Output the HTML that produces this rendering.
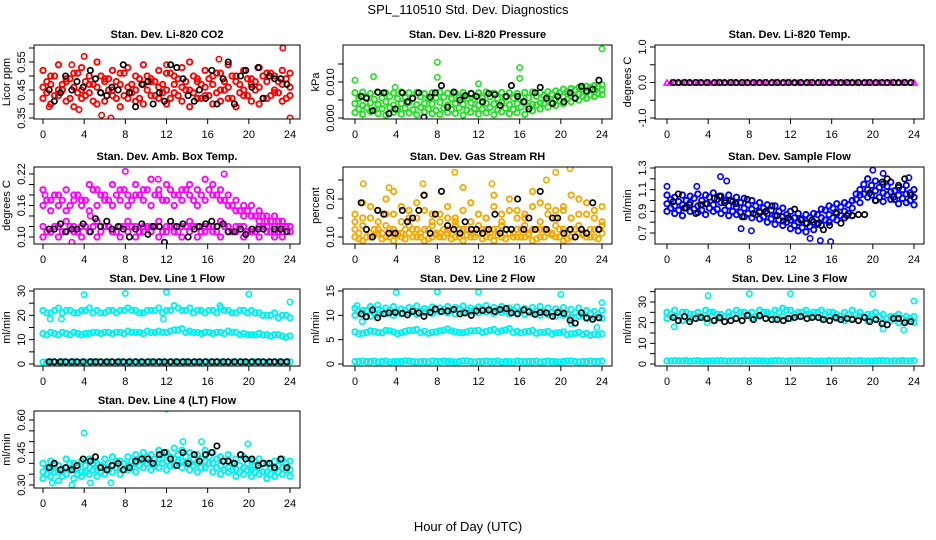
<!DOCTYPE html>
<html><head><meta charset="utf-8"><style>
html,body{margin:0;padding:0;background:#fff;}
svg{display:block;font-family:"Liberation Sans",sans-serif;}
</style></head><body>
<svg id="chart" width="936" height="540" viewBox="0 0 936 540" xmlns="http://www.w3.org/2000/svg">
<text x="468" y="14" font-size="13" text-anchor="middle">SPL_110510  Std. Dev. Diagnostics</text>
<text x="468" y="531" font-size="13" text-anchor="middle">Hour of Day (UTC)</text>
</svg>
<script>
const blackHours=[0.6,1.1,1.7,2.2,2.8,3.3,3.9,4.6,5.1,5.6,6.2,6.7,7.3,7.8,8.4,9.0,9.6,10.2,10.7,11.3,11.8,12.4,13.0,13.6,14.1,14.7,15.2,15.8,16.4,16.9,17.5,18.0,18.6,19.2,19.7,20.3,20.9,21.4,22.0,22.5,23.1,23.7];
const xTicks=[0,4,8,12,16,20,24];

const co2A=[.52,.50,.54,.49,.51,.53,.50,.55,.49,.52,.51,.53,.50,.54,.49,.52,.51,.50,.53,.55,.49,.52,.50,.51,.54,.50,.52,.49,.53,.51,.50,.52,.51];
const co2B=[.46,.47,.45,.48,.46,.45,.47,.46,.48,.45,.47,.46,.45,.47,.48,.46,.45,.47,.46,.45,.48,.46,.47,.45,.46,.48,.45,.47,.46,.48,.45,.47,.46];
const co2C=[.42,.40,.43,.41,.39,.42,.44,.40,.41,.43,.39,.42,.41,.40,.43,.42,.40,.44,.41,.39,.42,.43,.40,.41,.42,.39,.43,.41,.40,.42,.44,.41,.43];
const co2D=[.48,.50,.47,.49,.51,.48,.47,.50,.49,.48,.51,.47,.49,.50,.48,.47,.51,.49,.48,.50,.47,.49,.51,.48,.50,.47,.49,.48,.50,.51,.48,.49];
const co2E=[.44,.43,.45,.42,.44,.43,.41,.44,.45,.42,.43,.44,.42,.45,.43,.44,.42,.43,.45,.44,.42,.43,.44,.45,.42,.44,.43,.45,.42,.43,.44,.42];
const co2OutH=[4.0,6.6,5.7,23.3,24,17.1,3.5,0.6,12,2.8];
const co2OutV=[.57,.35,.36,.60,.35,.56,.38,.39,.54,.54];
const co2Black=[.45,.41,.44,.50,.45,.48,.46,.52,.49,.44,.43,.46,.45,.54,.44,.39,.47,.48,.40,.44,.41,.54,.53,.49,.43,.41,.45,.42,.52,.40,.49,.55,.40,.50,.52,.46,.53,.42,.50,.49,.49,.47];

const prA=[.0070,.0072,.0068,.0071,.0070,.0069,.0072,.0070,.0071,.0068,.0070,.0072,.0069,.0070,.0071,.0068,.0070,.0072,.0069,.0071,.0070,.0068,.0071,.0072,.0070,.0073,.0075,.0080,.0082,.0085,.0088,.0090,.0092];
const prB=[.0040,.0035,.0042,.0038,.0045,.0036,.0040,.0043,.0037,.0041,.0039,.0044,.0036,.0040,.0038,.0042,.0035,.0041,.0039,.0043,.0037,.0040,.0044,.0038,.0042,.0048,.0052,.0058,.0062,.0066,.0070,.0074,.0078];
const prC=[.0015,.0010,.0018,.0012,.0008,.0016,.0011,.0014,.0009,.0017,.0012,.0010,.0015,.0013,.0008,.0016,.0011,.0014,.0009,.0017,.0012,.0015,.0010,.0020,.0025,.0030,.0035,.0040,.0045,.0050,.0055,.0060,.0065];
const prD=[.0055,.0058,.0052,.0056,.0060,.0054,.0057,.0055,.0059,.0053,.0056,.0058,.0054,.0057,.0055,.0052,.0056,.0059,.0054,.0057,.0055,.0058,.0056,.0060,.0062,.0066,.0070,.0074,.0078,.0082,.0085,.0088];
const prE=[.0025,.0028,.0022,.0026,.0030,.0024,.0027,.0023,.0029,.0025,.0021,.0027,.0024,.0028,.0022,.0026,.0025,.0029,.0023,.0027,.0024,.0030,.0032,.0036,.0040,.0044,.0048,.0052,.0056,.0060,.0064,.0068];
const prOutH=[0,1.8,8,8,16,16,24,12,3.9];
const prOutV=[.0105,.0115,.0155,.0113,.0140,.0110,.0192,.0095,.0085];
const prBlack=[.0060,.0055,.0020,.0072,.0070,.0012,.0025,.0070,.0045,.0055,.0070,.0002,.0058,.0070,.0090,.0030,.0072,.0050,.0062,.0068,.0060,.0045,.0068,.0065,.0035,.0060,.0090,.0060,.0045,.0025,.0070,.0085,.0055,.0040,.0060,.0045,.0070,.0055,.0088,.0075,.0080,.0105];

const tmA=[0,0,0,0,0,0,0,0,0,0,0,0,0,0,0,0,0,0,0,0,0,0,0,0,0,0,0,0,0,0,0,0,0];
const tmB=[0,0,0,0,0,0,0,0,0,0,0,0,0,0,0,0,0,0,0,0,0,0,0,0,0,0,0,0,0,0,0,0];
const tmBlack=[0,0,0,0,0,0,0,0,0,0,0,0,0,0,0,0,0,0,0,0,0,0,0,0,0,0,0,0,0,0,0,0,0,0,0,0,0,0,0,0,0,0];

const abA=[.19,.17,.18,.19,.18,.17,.20,.19,.18,.20,.19,.18,.20,.19,.21,.19,.20,.18,.19,.20,.19,.21,.20,.19,.18,.17,.16,.16,.15,.14,.14,.13,.12];
const abB=[.16,.15,.16,.15,.17,.16,.15,.16,.17,.16,.17,.16,.18,.17,.16,.18,.17,.16,.17,.18,.16,.17,.18,.17,.16,.15,.14,.14,.13,.13,.12,.12,.11];
const abC=[.12,.11,.12,.13,.11,.12,.11,.13,.12,.11,.12,.13,.12,.11,.12,.13,.12,.11,.12,.13,.12,.11,.12,.13,.12,.11,.12,.11,.12,.11,.10,.11,.11];
const abD=[.10,.11,.10,.11,.12,.10,.11,.10,.12,.11,.10,.11,.10,.12,.11,.10,.11,.12,.10,.11,.10,.12,.11,.10,.11,.12,.10,.11,.10,.12,.11,.10,.12];
const abE=[.17,.18,.17,.16,.18,.17,.19,.18,.17,.18,.19,.17,.18,.19,.18,.17,.19,.18,.19,.17,.18,.19,.18,.17,.16,.15,.15,.14,.14,.13,.13,.12];
const abF=[.11,.12,.11,.12,.11,.12,.12,.11,.12,.11,.12,.12,.11,.12,.12,.11,.12,.11,.12,.12,.11,.12,.11,.12,.11,.12,.11,.11,.12,.11,.11,.12];
const abOutH=[8,17.6,4.6,0.2,11.2,2.8];
const abOutV=[.225,.22,.14,.18,.21,.09];
const abBlack=[.115,.115,.125,.11,.115,.115,.125,.11,.135,.12,.13,.115,.12,.115,.10,.115,.125,.105,.12,.12,.09,.13,.12,.125,.10,.115,.12,.125,.13,.12,.125,.11,.11,.115,.105,.115,.115,.115,.08,.115,.115,.11];

const rhA=[.12,.13,.11,.12,.13,.12,.11,.13,.12,.12,.13,.11,.12,.13,.12,.11,.13,.12,.12,.13,.11,.12,.13,.12,.12,.11,.13,.12,.12,.13,.11,.12,.13];
const rhB=[.10,.09,.10,.11,.10,.09,.10,.11,.10,.09,.10,.10,.11,.10,.09,.10,.11,.10,.09,.10,.11,.10,.10,.09,.10,.11,.10,.09,.10,.11,.10,.10,.11];
const rhC=[.16,.19,.15,.17,.20,.16,.18,.15,.19,.17,.16,.14,.18,.15,.17,.19,.16,.15,.18,.16,.20,.17,.15,.18,.19,.16,.17,.18,.15,.20,.16,.17,.18];
const rhD=[.14,.15,.18,.14,.16,.22,.14,.17,.15,.21,.14,.16,.15,.14,.23,.14,.16,.15,.21,.14,.17,.15,.16,.22,.14,.18,.15,.17,.21,.16,.19,.15,.14];
const rhE=[.11,.12,.12,.11,.12,.11,.12,.12,.11,.12,.11,.12,.11,.12,.12,.11,.12,.11,.12,.12,.11,.12,.11,.12,.12,.11,.12,.11,.12,.11,.12,.12];
const rhF=[.095,.10,.105,.095,.10,.105,.095,.10,.10,.095,.105,.10,.095,.10,.105,.10,.095,.10,.105,.095,.10,.10,.105,.095,.10,.105,.10,.095,.10,.105,.10,.095];
const rhOutH=[0.8,9.7,20.9,19.5,18.6,13.3,3.3,6.6];
const rhOutV=[.24,.27,.28,.27,.25,.24,.23,.24];
const rhBlack=[.19,.12,.10,.17,.16,.11,.11,.17,.14,.15,.17,.21,.11,.16,.22,.13,.12,.11,.14,.12,.12,.11,.12,.16,.11,.12,.12,.20,.12,.15,.12,.22,.12,.15,.15,.11,.12,.10,.12,.11,.19,.12];

const sfA=[1.05,1.03,1.05,1.04,1.06,1.05,1.07,1.04,1.05,1.03,1.02,1.00,0.98,0.96,0.95,0.93,0.90,0.88,0.87,0.88,0.92,0.95,0.97,0.98,1.00,1.10,1.20,1.18,1.15,1.17,1.12,1.14,1.10];
const sfB=[0.97,0.95,0.96,0.98,0.95,0.97,0.96,0.98,0.95,0.94,0.93,0.92,0.90,0.88,0.86,0.85,0.82,0.80,0.79,0.80,0.84,0.87,0.88,0.90,0.93,1.05,1.10,1.09,1.07,1.08,1.05,1.06,1.03];
const sfC=[0.90,0.88,0.86,0.90,0.89,0.87,0.90,0.88,0.86,0.87,0.85,0.84,0.83,0.80,0.78,0.77,0.74,0.72,0.71,0.73,0.77,0.80,0.82,0.84,0.86,0.98,1.03,1.00,0.99,1.01,0.97,0.98,0.96];
const sfD=[1.01,0.99,1.00,1.02,1.00,1.03,1.01,1.00,0.99,0.98,0.96,0.95,0.93,0.91,0.90,0.87,0.84,0.83,0.84,0.87,0.91,0.93,0.94,0.96,1.06,1.15,1.14,1.12,1.13,1.09,1.10,1.07];
const sfE=[0.93,0.91,0.93,0.92,0.91,0.93,0.92,0.91,0.90,0.89,0.88,0.87,0.85,0.83,0.82,0.80,0.77,0.75,0.76,0.78,0.82,0.84,0.86,0.88,1.01,1.06,1.05,1.03,1.05,1.01,1.02,1.00];
const sfOutH=[0,5.2,2.9,7.2,8.2,13.9,14.9,15.9,5.8,20,21,23.5];
const sfOutV=[1.13,1.22,1.13,0.74,0.72,0.65,0.63,0.62,1.18,1.28,1.25,1.21];
const sfBlack=[.99,1.06,.93,.96,.88,.96,.97,1.02,1.04,.98,1.00,.97,.85,1.01,.88,.89,.90,.95,.86,.81,.84,.92,.82,.79,.82,.79,.73,.77,.89,.79,.86,.86,.87,.87,1.07,1.00,1.17,1.20,1.03,1.14,1.20,1.05];

const l1A=[22,21,23,22,21,22,23,22,21,22,22,23,22,21,22,23,22,24,22,23,22,21,22,23,22,21,22,22,21,20,21,20,19];
const l1B=[12.5,13,12,12.5,13,12,12.5,13,13,12.5,13,13.5,13,12.5,13,13.5,13,14,14.5,13.5,13,13,12.5,13,13.5,13,12.5,12,12.5,12,12,11.5,11.5];
const l1C=[0.8,0.9,0.8,0.7,0.9,0.8,0.8,0.9,0.7,0.8,0.9,0.8,0.8,0.7,0.9,0.8,0.8,0.9,0.8,0.7,0.8,0.9,0.8,0.8,0.7,0.9,0.8,0.8,0.9,0.7,0.8,0.8,0.9];
const l1D=[21,22,21,22,21,22,21,21,22,21,22,22,21,22,22,21,22,23,22,21,22,22,21,22,21,22,21,21,20,20,19,20];
const l1E=[12,12.5,13,12,12.5,12.5,13,12.5,13,13,12.5,13,13,13.5,13,13,13.5,14,13,13,12.5,13,13,12.5,13,12,12,12,12,11.5,12,11];
const l1F=[0.8,0.8,0.9,0.8,0.7,0.8,0.9,0.8,0.8,0.7,0.8,0.9,0.8,0.8,0.9,0.7,0.8,0.8,0.9,0.8,0.7,0.8,0.8,0.9,0.8,0.8,0.7,0.9,0.8,0.8,0.9,0.8];
const l1OutH=[4,8,12,20,24,1.8,11.7,0.7,17.2];
const l1OutV=[28.5,29,29.5,28.7,25.5,18.5,18.5,18.5,24];
const l1Black=[0.9,0.9,0.9,0.9,0.9,0.9,0.9,0.9,0.9,0.9,0.9,0.9,0.9,0.9,0.9,0.9,0.9,0.9,0.9,0.9,0.9,0.9,0.9,0.9,0.9,0.9,0.9,0.9,0.9,0.9,0.9,0.9,0.9,0.9,0.9,0.9,0.9,0.9,0.9,0.9,0.9,0.9];

const l2A=[11.5,11,11.8,11.2,11.5,11.8,11.3,11.6,11.9,11.4,11.7,11.5,11.8,11.6,11.9,11.5,11.7,12,11.6,11.8,11.5,11.7,11.4,11.6,11.8,11.5,11.3,11.6,11.2,11.5,11,10.8,11];
const l2B=[10,10.2,9.8,10.1,10.4,10,10.3,10.5,10.2,10.6,10.4,10.7,10.5,10.3,10.6,10.8,10.5,10.7,10.4,10.6,10.3,10.5,10.2,10.4,10,10.2,9.8,10,9.5,9.8,9.3,9.6,9.4];
const l2C=[6.6,6.3,6.8,6.5,6.9,6.6,6.4,6.9,7.1,6.7,6.5,6.8,7.2,6.6,6.4,6.8,6.9,6.7,7.1,6.8,7.3,6.7,6.6,6.9,6.5,6.7,6.4,6.6,6.2,6.5,6.3,6.1,6.2];
const l2D=[0.5,0.6,0.5,0.4,0.6,0.5,0.5,0.6,0.4,0.5,0.6,0.5,0.5,0.4,0.6,0.5,0.5,0.6,0.5,0.4,0.5,0.6,0.5,0.5,0.4,0.6,0.5,0.5,0.6,0.4,0.5,0.5,0.6];
const l2E=[10.8,11,10.6,10.9,11,10.7,11,11.2,10.9,11.1,11,11.2,11,11.3,11.1,11.2,11.4,11,11.2,10.9,11.1,10.8,11,10.9,10.7,10.6,10.8,10.3,10.6,10.1,10.4,10.2];
const l2F=[6.2,6.5,6.7,6.4,6.8,6.2,6.7,6.9,6.5,6.3,6.6,6.9,6.8,6.5,6.6,6.8,6.5,6.9,6.6,7,6.5,6.4,6.7,6.3,6.5,6.2,6.4,6,6.3,6.1,5.9,6];
const l2G=[0.5,0.5,0.6,0.5,0.4,0.5,0.6,0.5,0.5,0.4,0.5,0.6,0.5,0.5,0.6,0.4,0.5,0.5,0.6,0.5,0.4,0.5,0.5,0.6,0.5,0.5,0.4,0.6,0.5,0.5,0.6,0.5];
const l2OutH=[4,8,12,20,24,0.2,0.7,21,23.5,2.2];
const l2OutV=[14.7,14.8,14.8,14.3,12.6,12,8.7,8.3,7.5,12.1];
const l2Black=[10.3,9.7,11.1,9.5,10.3,10.5,10.6,10.4,10.1,10.8,10.5,9.8,10.6,11.3,10.8,10.9,11.2,10.3,10.5,10.0,10.9,11.0,11.1,10.8,11.2,11.4,10.5,10.3,11.1,10.7,10.2,10.6,10.5,9.8,10.6,10.4,9.0,8.4,10.5,9.5,9.2,9.5];

const l3A=[25,26,25,24,25,26,25,24,25,26,25,25,26,25,26,27,26,25,26,25,26,25,24,25,26,25,24,25,24,23,24,23,23];
const l3B=[22,23,21,22,23,22,21,22,23,22,23,22,23,24,22,23,22,23,24,23,22,23,22,21,22,23,21,22,20,21,20,21,20];
const l3C=[1.5,1.6,1.5,1.4,1.6,1.5,1.5,1.6,1.4,1.5,1.6,1.5,1.5,1.4,1.6,1.5,1.5,1.6,1.5,1.4,1.5,1.6,1.5,1.5,1.4,1.6,1.5,1.5,1.6,1.4,1.5,1.5,1.6];
const l3D=[24,23,25,24,23,25,24,23,24,25,24,23,25,24,25,26,24,25,24,25,24,25,23,24,24,23,24,23,22,23,22,22];
const l3F=[1.5,1.5,1.6,1.5,1.4,1.5,1.6,1.5,1.5,1.4,1.5,1.6,1.5,1.5,1.6,1.4,1.5,1.5,1.6,1.5,1.4,1.5,1.5,1.6,1.5,1.5,1.4,1.6,1.5,1.5,1.6,1.5];
const l3OutH=[4,8,12,20,24,0.7,21,23,3.9];
const l3OutV=[33,34,34,34,30.5,18,17,16.5,20];
const l3Black=[22.5,21,23,20.5,22,22.5,22,21,22.5,20.5,21,22,21,23.5,21.5,23.5,22,21.5,21.5,21,22,22.5,23,22,22.5,22.5,21.5,21,22.5,21.5,22,21.5,21,22.5,20.5,21.5,19.5,19,22,22,20,20.5];

const l4A=[.40,.41,.39,.42,.40,.41,.42,.40,.42,.43,.41,.43,.44,.45,.44,.46,.45,.47,.46,.45,.44,.46,.45,.43,.44,.42,.43,.41,.42,.40,.41,.42,.41];
const l4B=[.36,.37,.36,.38,.37,.36,.38,.37,.38,.39,.38,.39,.40,.41,.40,.42,.41,.42,.41,.40,.40,.41,.40,.39,.38,.37,.38,.37,.38,.36,.37,.38,.37];
const l4C=[.33,.34,.32,.35,.33,.34,.35,.34,.35,.36,.35,.37,.36,.38,.37,.38,.37,.39,.38,.37,.36,.38,.36,.35,.36,.34,.35,.34,.35,.33,.34,.35,.34];
const l4D=[.38,.39,.37,.40,.38,.39,.40,.39,.40,.41,.40,.41,.42,.43,.42,.44,.43,.44,.43,.42,.42,.43,.42,.41,.40,.39,.40,.39,.40,.38,.39,.40];
const l4E=[.35,.36,.34,.37,.35,.36,.37,.36,.37,.38,.37,.38,.39,.40,.39,.40,.39,.41,.40,.39,.38,.40,.38,.37,.37,.36,.37,.36,.36,.35,.36,.37];
const l4OutH=[4,12,19.9,2.8,4.6,6.6,0.9,13.6,15.4];
const l4OutV=[.54,.65,.49,.30,.31,.31,.31,.50,.50];
const l4Black=[.38,.40,.37,.38,.37,.39,.42,.41,.43,.38,.37,.39,.40,.37,.38,.41,.42,.42,.40,.44,.45,.42,.39,.45,.40,.44,.41,.44,.45,.48,.41,.41,.40,.44,.42,.42,.39,.40,.40,.38,.42,.38];

const cloudHours=[];
for(let i=0;i<33;i++) cloudHours.push(i*0.75);
const cloudHoursMid=[];
for(let i=0;i<32;i++) cloudHoursMid.push(i*0.75+0.375);

const NS='http://www.w3.org/2000/svg';
const svg=document.getElementById('chart');
function mk(tag,attrs,parent){const e=document.createElementNS(NS,tag);for(const k in attrs)e.setAttribute(k,attrs[k]);(parent||svg).appendChild(e);return e;}

const colX=[[34,300,43,290],[343,612,355,602],[655,924,667,914]];
const rowY=[[45,119],[167,244],[289,366],[411,488]];

const panels=[
 {name:'co2',title:'Stan. Dev. Li-820 CO2',ylab:'Licor ppm',c:0,r:0,ym:[.35,118,.55,62],ticks:[.35,.40,.45,.50,.55,.60],labs:[.35,.45,.55],fmt:2,color:'#ff0000',rows:[co2A,co2B,co2C],rows2:[co2D,co2E],oh:co2OutH,ov:co2OutV,black:co2Black},
 {name:'pressure',title:'Stan. Dev. Li-820 Pressure',ylab:'kPa',c:1,r:0,ym:[0,118,.01,82],ticks:[0,.005,.01,.015],labs:[0,.01],fmt:3,color:'#22e022',rows:[prA,prB,prC],rows2:[prD,prE],oh:prOutH,ov:prOutV,black:prBlack},
 {name:'temp',title:'Stan. Dev. Li-820 Temp.',ylab:'degrees C',c:2,r:0,ym:[-1,118,1,47],ticks:[-1,-.5,0,.5,1],labs:[-1,0,1],fmt:1,color:'#ff00ff',rows:[tmA],rows2:[tmB],oh:[],ov:[],black:tmBlack,tri:true},
 {name:'amb-box-temp',title:'Stan. Dev. Amb. Box Temp.',ylab:'degrees C',c:0,r:1,ym:[.10,237,.22,174],ticks:[.10,.12,.14,.16,.18,.20,.22],labs:[.10,.16,.22],fmt:2,color:'#ff00ff',rows:[abA,abB,abC,abD],rows2:[abE,abF],oh:abOutH,ov:abOutV,black:abBlack},
 {name:'gas-rh',title:'Stan. Dev. Gas Stream RH',ylab:'percent',c:1,r:1,ym:[.10,237,.20,199],ticks:[.10,.15,.20,.25],labs:[.10,.20],fmt:2,color:'#f5a800',rows:[rhA,rhB,rhC,rhD],rows2:[rhE,rhF],oh:rhOutH,ov:rhOutV,black:rhBlack},
 {name:'sample-flow',title:'Stan. Dev. Sample Flow',ylab:'ml/min',c:2,r:1,ym:[.7,233,1.3,168],ticks:[.7,.8,.9,1.0,1.1,1.2,1.3],labs:[.7,.9,1.1,1.3],fmt:1,color:'#0000ff',rows:[sfA,sfB,sfC],rows2:[sfD,sfE],oh:sfOutH,ov:sfOutV,black:sfBlack},
 {name:'line1-flow',title:'Stan. Dev. Line 1 Flow',ylab:'ml/min',c:0,r:2,ym:[0,364,30,291],ticks:[0,5,10,15,20,25,30],labs:[0,10,20,30],fmt:0,color:'#00f0f0',rows:[l1A,l1B,l1C],rows2:[l1D,l1E,l1F],oh:l1OutH,ov:l1OutV,black:l1Black},
 {name:'line2-flow',title:'Stan. Dev. Line 2 Flow',ylab:'ml/min',c:1,r:2,ym:[0,364,15,291],ticks:[0,5,10,15],labs:[0,5,10,15],fmt:0,color:'#00f0f0',rows:[l2A,l2B,l2C,l2D],rows2:[l2E,l2F,l2G],oh:l2OutH,ov:l2OutV,black:l2Black},
 {name:'line3-flow',title:'Stan. Dev. Line 3 Flow',ylab:'ml/min',c:2,r:2,ym:[0,364,30,302],ticks:[0,5,10,15,20,25,30,35],labs:[0,10,20,30],fmt:0,color:'#00f0f0',rows:[l3A,l3B,l3C],rows2:[l3D,l3F],oh:l3OutH,ov:l3OutV,black:l3Black},
 {name:'line4-flow',title:'Stan. Dev. Line 4 (LT) Flow',ylab:'ml/min',c:0,r:3,ym:[.30,485,.60,420],ticks:[.30,.35,.40,.45,.50,.55,.60],labs:[.30,.45,.60],fmt:2,color:'#00f0f0',rows:[l4A,l4B,l4C],rows2:[l4D,l4E],oh:l4OutH,ov:l4OutV,black:l4Black}
];

function marker(g,x,y,color,tri,sw){
  if(tri){
    const e=mk('path',{d:`M${x-3},${y+2.5}L${x+3},${y+2.5}L${x},${y-2.5}Z`,fill:'none',stroke:color,'stroke-width':1.5},g);
    
    
  } else {
    const e=mk('circle',{cx:x,cy:y,r:2.7,fill:'none',stroke:color,'stroke-width':sw},g);
    
    
  }
}

panels.forEach(p=>{
  const [bx0,bx1,x0,x24]=colX[p.c];
  const [by0,by1]=rowY[p.r];
  const xs=h=>x0+(x24-x0)*h/24;
  const ys=v=>p.ym[1]+(v-p.ym[0])*(p.ym[3]-p.ym[1])/(p.ym[2]-p.ym[0]);
  const g=mk('g',{});
  
  
  const cx=(bx0+bx1)/2;
  const t=mk('text',{x:cx,y:by0-7,'font-size':11,'font-weight':'bold','text-anchor':'middle'},g);
  t.textContent=p.title;
  
  
  const clip='clip-'+p.name;
  const cp=mk('clipPath',{id:clip},g);
  mk('rect',{x:bx0,y:by0,width:bx1-bx0,height:by1-by0},cp);
  const pg=mk('g',{'clip-path':`url(#${clip})`},g);
  
  
  p.rows.forEach(row=>row.forEach((v,i)=>marker(pg,xs(cloudHours[i]),ys(v),p.color,p.tri,1.9)));
  p.rows2.forEach(row=>row.forEach((v,i)=>marker(pg,xs(cloudHoursMid[i]),ys(v),p.color,p.tri,1.9)));
  p.oh.forEach((h,i)=>marker(pg,xs(h),ys(p.ov[i]),p.color,p.tri,1.6));
  p.black.forEach((v,i)=>marker(pg,xs(blackHours[i]),ys(v),'#000',false,1.7));
  const b=mk('rect',{x:bx0,y:by0,width:bx1-bx0,height:by1-by0,fill:'none',stroke:'#000','stroke-width':1},g);
  
  
  const xa=mk('g',{},g);
  
  
  mk('line',{x1:xs(0),x2:xs(24),y1:by1,y2:by1,stroke:'#000'},xa);
  xTicks.forEach(h=>{
    mk('line',{x1:xs(h),x2:xs(h),y1:by1,y2:by1+5,stroke:'#000'},xa);
    const tl=mk('text',{x:xs(h),y:by1+19,'font-size':11,'text-anchor':'middle'},xa);
    tl.textContent=h;
    
    
  });
  const ya=mk('g',{},g);
  
  
  const tk=p.ticks;
  mk('line',{x1:bx0,x2:bx0,y1:ys(tk[0]),y2:ys(tk[tk.length-1]),stroke:'#000'},ya);
  tk.forEach(v=>mk('line',{x1:bx0-5,x2:bx0,y1:ys(v),y2:ys(v),stroke:'#000'},ya));
  p.labs.forEach(v=>{
    const yy=ys(v), xx=bx0-9;
    const tl=mk('text',{x:xx,y:yy,'font-size':11,'text-anchor':'middle',transform:`rotate(-90 ${xx} ${yy})`},ya);
    tl.textContent=v.toFixed(p.fmt);
    
    
  });
  const yl=mk('text',{x:bx0-24,y:(by0+by1)/2,'font-size':11,'text-anchor':'middle',transform:`rotate(-90 ${bx0-24} ${(by0+by1)/2})`},ya);
  yl.textContent=p.ylab;
  
  
});
</script>
</body></html>
